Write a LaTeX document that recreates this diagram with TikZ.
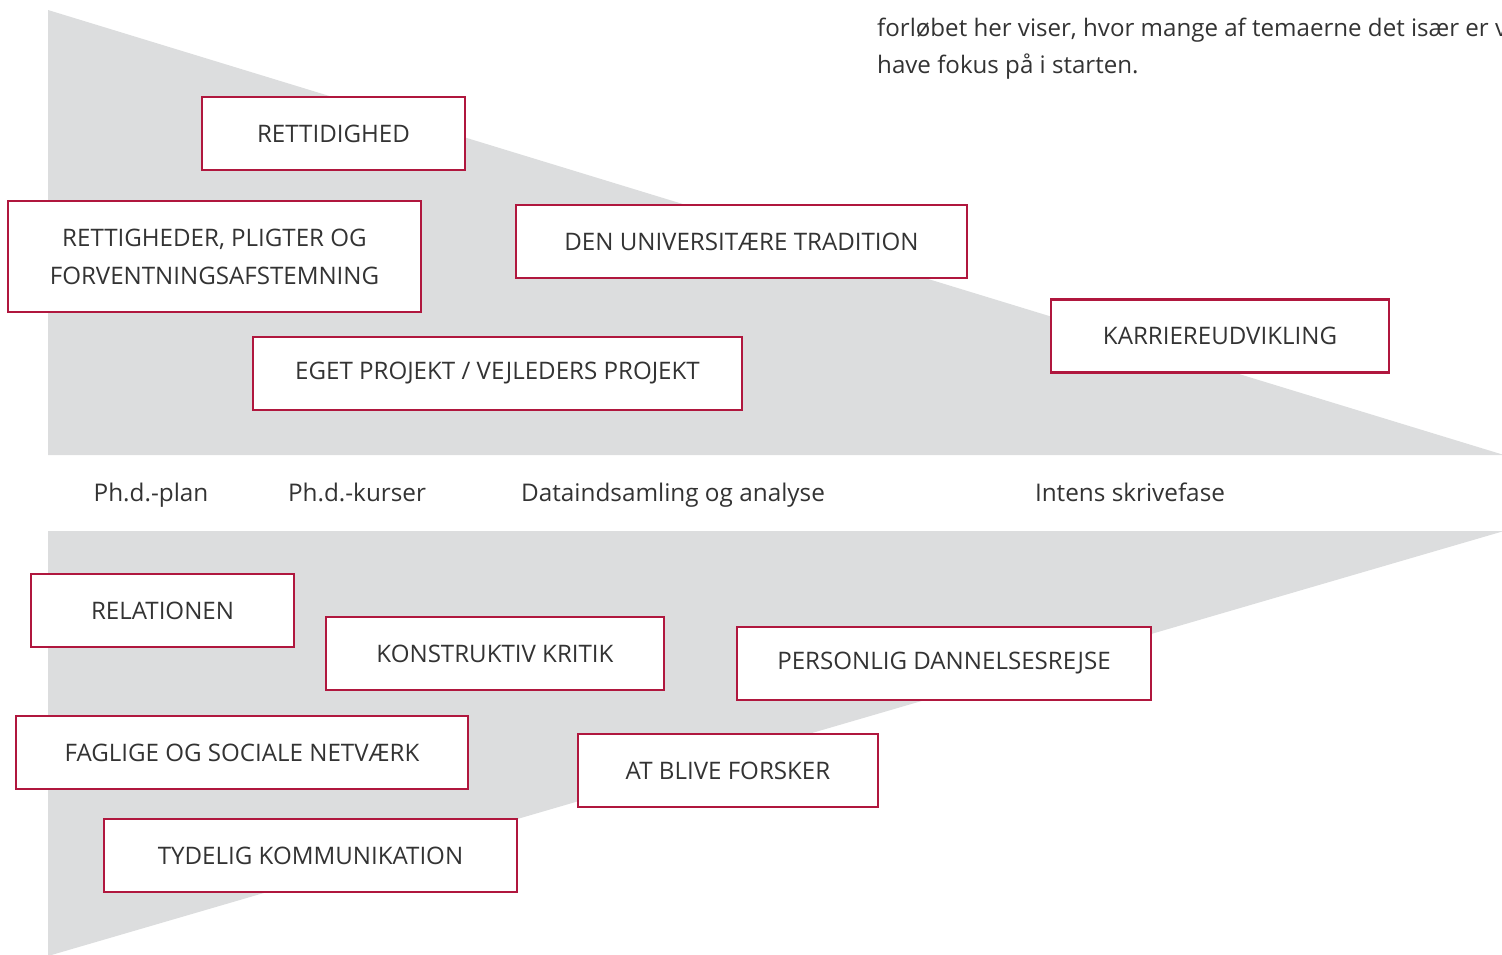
\documentclass[tikz,border=0pt]{standalone}
\usepackage{fontspec}
\setmainfont{Open Sans}
\usepackage{xcolor}
\definecolor{wedgeColor}{HTML}{DCDDDE}
\definecolor{boxLineColor}{HTML}{B0173E}
\definecolor{boxTextColor}{HTML}{333333}
\tikzset{
  themeBox/.style={draw=boxLineColor, line width=2.6bp, fill=white,
    text=boxTextColor, align=center, inner sep=0pt, minimum height=73bp,
    font=\fontsize{24.2}{38}\selectfont},
  phaseLabel/.style={text=boxTextColor, inner sep=0pt, anchor=base,
    font=\fontsize{24.4}{28}\selectfont},
  introText/.style={text=boxTextColor, inner sep=0pt, anchor=base west,
    font=\fontsize{24.2}{37}\selectfont}
}

\begin{document}
\begin{tikzpicture}[x=1bp,y=-1bp]
\useasboundingbox (0, 0) rectangle (1502, 954);

% wedge layer
\begin{scope}
\fill[wedgeColor] (48, 10) -- (48, 455) -- (1504, 455) -- cycle;
\fill[wedgeColor] (48, 531) -- (1504, 531) -- (48, 956) -- cycle;
\end{scope}

% intro text
\node[introText] (introA) at (877, 36) {forløbet her viser, hvor mange af temaerne det især er v};
\node[introText] (introB) at (877, 73) {have fokus på i starten.};

% phase layer
\begin{scope}
\node[phaseLabel] (plan) at (151, 501) {Ph.d.-plan};
\node[phaseLabel] (kurser) at (357, 501) {Ph.d.-kurser};
\node[phaseLabel] (data) at (673, 501) {Dataindsamling og analyse};
\node[phaseLabel] (skrive) at (1130, 501) {Intens skrivefase};
\end{scope}

% upper themes
\begin{scope}
\node[themeBox, minimum width=263bp] (rettidighed) at (333.5, 133.5) {RETTIDIGHED};
\node[themeBox, minimum width=413bp, minimum height=111bp] (rettigheder) at (214.5, 256.5)
{RETTIGHEDER, PLIGTER OG\\FORVENTNINGSAFSTEMNING};
\node[themeBox, minimum width=451bp] (tradition) at (741.5, 241.5) {DEN UNIVERSITÆRE TRADITION};
\node[themeBox, minimum width=338bp] (karriere) at (1220, 336) {KARRIEREUDVIKLING};
\node[themeBox, minimum width=489bp] (projekt) at (497.5, 373.5) {EGET PROJEKT / VEJLEDERS PROJEKT};
\end{scope}

% lower themes
\begin{scope}
\node[themeBox, minimum width=263bp] (relationen) at (162.5, 610.5) {RELATIONEN};
\node[themeBox, minimum width=338bp] (kritik) at (495, 653.5) {KONSTRUKTIV KRITIK};
\node[themeBox, minimum width=414bp] (dannelse) at (944, 663.5) {PERSONLIG DANNELSESREJSE};
\node[themeBox, minimum width=452bp] (netvaerk) at (242, 752.5) {FAGLIGE OG SOCIALE NETVÆRK};
\node[themeBox, minimum width=300bp] (forsker) at (728, 770.5) {AT BLIVE FORSKER};
\node[themeBox, minimum width=413bp] (kommunikation) at (310.5, 855.5) {TYDELIG KOMMUNIKATION};
\end{scope}

\end{tikzpicture}
\end{document}
